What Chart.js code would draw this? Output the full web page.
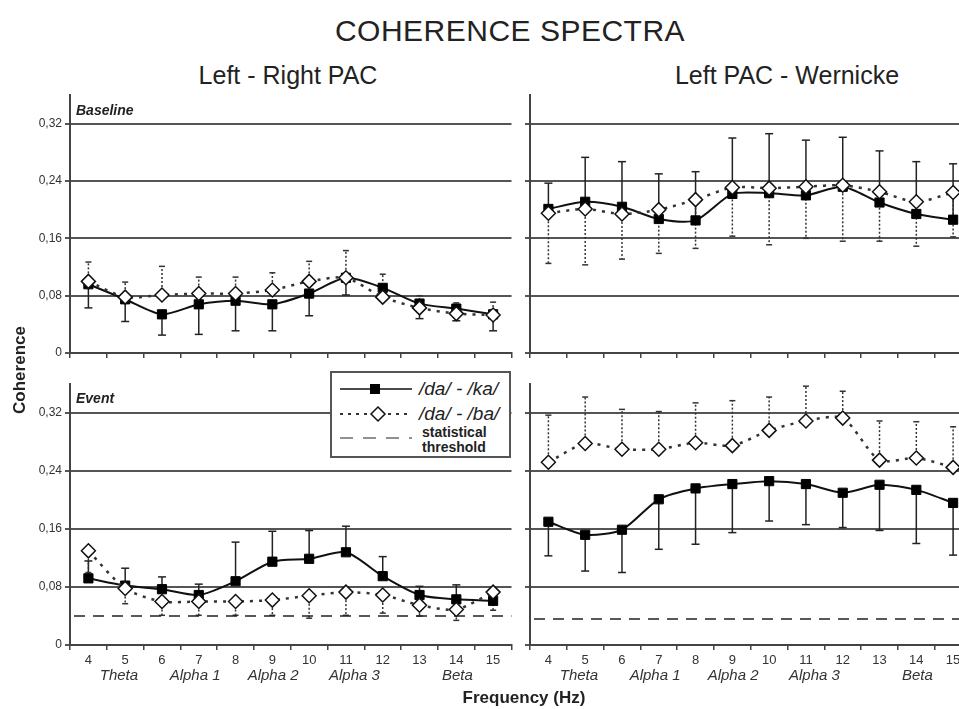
<!DOCTYPE html>
<html>
<head>
<meta charset="utf-8">
<script src="https://cdn.jsdelivr.net/npm/chart.js@4"></script>
<style>
  html, body { margin: 0; padding: 0; background: #fff; overflow: hidden; }
  body { position: relative; width: 959px; height: 709px; font-family: "Liberation Sans", Arial, sans-serif; color: #222; }
  canvas { position: absolute; }
  .txt { position: absolute; white-space: nowrap; line-height: 1; }
  .center { transform: translateX(-50%); }
  #legendBox { position: absolute; left: 330px; top: 371px; width: 181px; height: 87px; box-sizing: border-box;
               border: 2px solid #555; background: #fff; }
  #legendBox svg { position: absolute; left: 0; top: 0; }
</style>
</head>
<body>
<div class="txt center" style="left:510px; top:16px; font-size:30px; letter-spacing:0.5px;">COHERENCE SPECTRA</div>
<div class="txt center" style="left:288px; top:63px; font-size:25px;">Left - Right PAC</div>
<div class="txt center" style="left:787px; top:63px; font-size:25px;">Left PAC - Wernicke</div>

<canvas id="baseLR" width="520" height="285" style="left:0; top:85px;"></canvas>
<canvas id="baseW" width="460" height="285" style="left:520px; top:85px;"></canvas>
<canvas id="eventLR" width="520" height="316" style="left:0; top:374px;"></canvas>
<canvas id="eventW" width="460" height="316" style="left:520px; top:374px;"></canvas>

<div class="txt" style="left:76px; top:103px; font-size:14px; font-weight:bold; font-style:italic;">Baseline</div>
<div class="txt" style="left:76px; top:391px; font-size:14px; font-weight:bold; font-style:italic;">Event</div>

<div class="txt" style="left:19px; top:370px; font-size:17px; font-weight:bold; transform: translate(-50%, -50%) rotate(-90deg);">Coherence</div>
<div class="txt center" style="left:524px; top:689px; font-size:17px; font-weight:bold;">Frequency (Hz)</div>

<div id="legendBox">
  <svg width="90" height="84">
    <line x1="8" y1="16" x2="80" y2="16" stroke="#111" stroke-width="1.5"/>
    <rect x="38" y="11" width="10" height="10" fill="#000"/>
    <line x1="8" y1="41" x2="80" y2="41" stroke="#333" stroke-width="2" stroke-dasharray="3 5"/>
    <polygon points="46,34 53,41 46,48 39,41" fill="#fff" stroke="#111" stroke-width="1.5"/>
    <line x1="8" y1="65" x2="80" y2="65" stroke="#222" stroke-width="1.2" stroke-dasharray="13 10"/>
  </svg>
  <span class="txt" style="left:87px; top:6px; font-size:19px; font-style:italic;">/da/ - /ka/</span>
  <span class="txt" style="left:87px; top:31px; font-size:19px; font-style:italic;">/da/ - /ba/</span>
  <span class="txt" style="left:90px; top:52px; font-size:14px; font-weight:bold;">statistical</span>
  <span class="txt" style="left:90px; top:67px; font-size:14px; font-weight:bold;">threshold</span>
</div>

<script>
  const freqs = ['4', '5', '6', '7', '8', '9', '10', '11', '12', '13', '14', '15']
  const bandLabels = ['Theta', 'Alpha 1', 'Alpha 2', 'Alpha 3', 'Beta']
  const bandAt = [4.83, 6.9, 9.02, 11.23, 14.03]

  // Baseline, Left - Right PAC
  const baseLR_ka = [0.096, 0.075, 0.054, 0.068, 0.073, 0.068, 0.083, 0.105, 0.091, 0.069, 0.062, 0.054]
  const baseLR_kaErr = [0.033, 0.031, 0.029, 0.042, 0.042, 0.037, 0.031, 0.024, 0.012, 0.021, 0.017, 0.023]
  const baseLR_ba = [0.100, 0.078, 0.081, 0.083, 0.083, 0.088, 0.100, 0.105, 0.078, 0.063, 0.055, 0.053]
  const baseLR_baErr = [0.027, 0.021, 0.040, 0.023, 0.023, 0.024, 0.028, 0.038, 0.032, 0.017, 0.015, 0.018]

  // Baseline, Left PAC - Wernicke
  const baseW_ka = [0.201, 0.211, 0.204, 0.187, 0.185, 0.222, 0.223, 0.220, 0.232, 0.210, 0.194, 0.186]
  const baseW_kaErr = [0.036, 0.062, 0.063, 0.063, 0.068, 0.078, 0.083, 0.077, 0.069, 0.072, 0.073, 0.078]
  const baseW_ba = [0.195, 0.201, 0.194, 0.200, 0.214, 0.231, 0.230, 0.232, 0.234, 0.225, 0.211, 0.224]
  const baseW_baErr = [0.070, 0.078, 0.063, 0.061, 0.068, 0.068, 0.079, 0.072, 0.078, 0.069, 0.062, 0.062]

  // Event, Left - Right PAC
  const eventLR_ka = [0.092, 0.082, 0.077, 0.069, 0.088, 0.115, 0.119, 0.128, 0.095, 0.069, 0.063, 0.061]
  const eventLR_kaErr = [0.024, 0.024, 0.017, 0.015, 0.054, 0.042, 0.039, 0.036, 0.027, 0.012, 0.020, 0.004]
  const eventLR_ba = [0.130, 0.078, 0.060, 0.060, 0.060, 0.062, 0.068, 0.073, 0.069, 0.055, 0.049, 0.073]
  const eventLR_baErr = [0.030, 0.021, 0.019, 0.019, 0.019, 0.021, 0.031, 0.032, 0.025, 0.015, 0.015, 0.025]
  const eventLR_threshold = 0.040

  // Event, Left PAC - Wernicke
  const eventW_ka = [0.170, 0.152, 0.159, 0.201, 0.216, 0.222, 0.226, 0.222, 0.210, 0.221, 0.214, 0.196]
  const eventW_kaErr = [0.047, 0.050, 0.059, 0.069, 0.077, 0.067, 0.055, 0.056, 0.048, 0.063, 0.074, 0.072]
  const eventW_ba = [0.252, 0.278, 0.270, 0.270, 0.279, 0.275, 0.296, 0.309, 0.313, 0.255, 0.258, 0.245]
  const eventW_baErr = [0.065, 0.064, 0.055, 0.052, 0.055, 0.062, 0.046, 0.048, 0.037, 0.054, 0.050, 0.056]
  const eventW_threshold = 0.036

  Chart.defaults.font.family = "'Liberation Sans', Arial, sans-serif"
  Chart.defaults.color = '#333'

  // one-sided error bars, drawn under the markers
  const errorBars = {
    id: 'errorBars',
    beforeDatasetsDraw(chart, args, opts) {
      const { ctx, scales: { x, y } } = chart
      for (const b of opts.bars || []) {
        ctx.save()
        ctx.strokeStyle = b.color
        ctx.lineWidth = b.width
        b.values.forEach((v, i) => {
          const px = x.getPixelForValue(i)
          const y0 = y.getPixelForValue(v)
          const y1 = y.getPixelForValue(v + b.dir * b.err[i])
          ctx.setLineDash(b.dash)
          ctx.beginPath()
          ctx.moveTo(px, y0)
          ctx.lineTo(px, y1)
          ctx.stroke()
          ctx.setLineDash([])
          ctx.beginPath()
          ctx.moveTo(px - b.cap, y1)
          ctx.lineTo(px + b.cap, y1)
          ctx.stroke()
        })
        ctx.restore()
      }
      if (opts.threshold !== undefined) {
        const yy = y.getPixelForValue(opts.threshold)
        ctx.save()
        ctx.strokeStyle = '#222'
        ctx.lineWidth = 1.5
        ctx.setLineDash([11, 8])
        ctx.beginPath()
        ctx.moveTo(chart.chartArea.left + 4, yy)
        ctx.lineTo(chart.chartArea.right, yy)
        ctx.stroke()
        ctx.restore()
      }
    }
  }

  // frequency band names under the tick labels
  const bandNames = {
    id: 'bandNames',
    afterDraw(chart, args, opts) {
      if (!opts.show) return
      const { ctx, scales: { x } } = chart
      ctx.save()
      ctx.font = "italic 15px 'Liberation Sans', Arial, sans-serif"
      ctx.fillStyle = '#333'
      ctx.textAlign = 'center'
      ctx.textBaseline = 'middle'
      bandLabels.forEach((lab, i) => {
        ctx.fillText(lab, x.getPixelForValue(bandAt[i] - 4), chart.chartArea.bottom + 31)
      })
      ctx.restore()
    }
  }

  const makePanel = (canvasId, ka, kaErr, kaDir, ba, baErr, baDir, cfg) => {
    return new Chart(document.getElementById(canvasId), {
      type: 'line',
      data: {
        labels: freqs,
        datasets: [{
          label: '/da/ - /ba/',
          data: ba,
          borderColor: '#333',
          borderWidth: 2.5,
          borderDash: [3, 6],
          tension: 0.25,
          pointStyle: 'rectRot',
          pointRadius: 7,
          pointBackgroundColor: '#fff',
          pointBorderColor: '#111',
          pointBorderWidth: 1.5
        }, {
          label: '/da/ - /ka/',
          data: ka,
          borderColor: '#111',
          borderWidth: 2,
          tension: 0.25,
          pointStyle: 'rect',
          pointRadius: 6.5,
          pointBackgroundColor: '#000',
          pointBorderColor: '#000',
          pointBorderWidth: 1
        }]
      },
      options: {
        responsive: false,
        animation: false,
        devicePixelRatio: 1,
        layout: { padding: { top: 10, right: 1, left: 0, bottom: 0 } },
        plugins: {
          legend: { display: false },
          tooltip: { enabled: false },
          errorBars: {
            threshold: cfg.threshold,
            bars: [
              { values: ka, err: kaErr, dir: kaDir, color: '#222', width: 1.5, dash: [], cap: 4 },
              { values: ba, err: baErr, dir: baDir, color: '#333', width: 1.5, dash: [2, 2], cap: 3 }
            ]
          },
          bandNames: { show: cfg.showX }
        },
        scales: {
          x: {
            offset: true,
            grid: { offset: true, drawOnChartArea: false, drawTicks: true, tickLength: 5, color: '#444', lineWidth: 1.5 },
            border: { color: '#444', width: 2 },
            ticks: { display: cfg.showX, font: { size: 13 }, padding: 3, maxRotation: 0, autoSkip: false },
            afterFit: (s) => { s.height = cfg.xh }
          },
          y: {
            min: 0,
            max: 0.36,
            grid: { color: '#555', lineWidth: 2, drawTicks: true, tickLength: 5 },
            border: { color: '#444', width: 2 },
            ticks: {
              display: cfg.showY,
              stepSize: 0.08,
              padding: 3,
              font: { size: 12 },
              callback: (v) => v === 0 ? '0' : v.toFixed(2).replace('.', ',')
            },
            afterBuildTicks: (s) => { s.ticks = s.ticks.filter(t => t.value < 0.35) },
            afterFit: (s) => { s.width = cfg.yw }
          }
        }
      },
      plugins: [errorBars, bandNames]
    })
  }

  makePanel('baseLR', baseLR_ka, baseLR_kaErr, -1, baseLR_ba, baseLR_baErr, 1,
    { showX: false, showY: true, xh: 17, yw: 70 })
  makePanel('baseW', baseW_ka, baseW_kaErr, 1, baseW_ba, baseW_baErr, -1,
    { showX: false, showY: false, xh: 17, yw: 10 })
  makePanel('eventLR', eventLR_ka, eventLR_kaErr, 1, eventLR_ba, eventLR_baErr, -1,
    { showX: true, showY: true, xh: 45, yw: 70, threshold: eventLR_threshold })
  makePanel('eventW', eventW_ka, eventW_kaErr, -1, eventW_ba, eventW_baErr, 1,
    { showX: true, showY: false, xh: 45, yw: 10, threshold: eventW_threshold })
</script>
</body>
</html>
